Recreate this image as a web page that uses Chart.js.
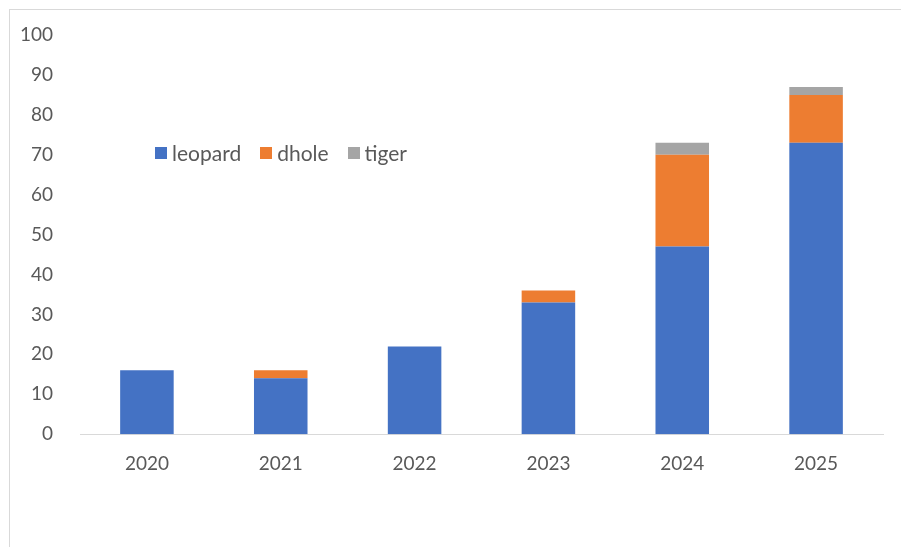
<!DOCTYPE html>
<html>
<head>
<meta charset="utf-8">
<script src="https://cdn.jsdelivr.net/npm/chart.js@4"></script>
<style>
  html, body { margin: 0; padding: 0; background: #fff; }
  #wrap { position: relative; width: 901px; height: 547px; overflow: hidden; }
  #frame { position: absolute; left: 9px; top: 9px; width: 910px; height: 560px; border: 1px solid #d9d9d9; box-sizing: border-box; }
  #chart { position: absolute; left: 0; top: 0; }
  #legend { position: absolute; left: 155px; top: 140px; display: flex; font-family: Lato, sans-serif; font-size: 21px; color: #595959; }
  #legend .item { display: flex; align-items: center; margin-right: 19px; }
  #legend .box { width: 12px; height: 12px; margin-right: 5px; }
</style>
</head>
<body>
<div id="wrap">
  <div id="frame"></div>
  <canvas id="chart" width="901" height="547"></canvas>
  <div id="legend"></div>
</div>
<script>
// chart data
const years = ['2020', '2021', '2022', '2023', '2024', '2025'];
const leopard = [16, 14, 22, 33, 47, 73];
const dhole = [0, 2, 0, 3, 23, 12];
const tiger = [0, 0, 0, 0, 3, 2];
const yTicks = [0, 10, 20, 30, 40, 50, 60, 70, 80, 90, 100];

const seriesColors = { leopard: '#4472c4', dhole: '#ed7d31', tiger: '#a5a5a5' };
const textColor = '#595959';
const fontFamily = 'Lato, sans-serif';

const datasets = [
    { label: 'leopard', data: leopard, backgroundColor: seriesColors.leopard },
    { label: 'dhole', data: dhole, backgroundColor: seriesColors.dhole },
    { label: 'tiger', data: tiger, backgroundColor: seriesColors.tiger }
].map(ds => Object.assign(ds, { barPercentage: 0.4, categoryPercentage: 1.0, borderWidth: 0 }));

const chart = new Chart(document.getElementById('chart'), {
    type: 'bar',
    data: { labels: years, datasets: datasets },
    options: {
        responsive: false,
        animation: false,
        layout: { padding: { top: 35, right: 18, bottom: 62, left: 0 } },
        plugins: {
            legend: { display: false },
            tooltip: { enabled: false }
        },
        scales: {
            x: {
                stacked: true,
                grid: { display: false },
                border: { display: true, color: '#d9d9d9', width: 1 },
                ticks: { color: textColor, font: { family: fontFamily, size: 19 }, padding: 10 }
            },
            y: {
                stacked: true,
                min: 0,
                max: 100,
                afterBuildTicks: axis => { axis.ticks = yTicks.map(v => ({ value: v })); },
                afterFit: axis => { axis.width = 80; },
                grid: { display: false },
                border: { display: false },
                ticks: { color: textColor, font: { family: fontFamily, size: 19 }, padding: 19 }
            }
        }
    }
});

// HTML legend built from the datasets
const legendEl = document.getElementById('legend');
chart.data.datasets.forEach(ds => {
    const item = document.createElement('div');
    item.className = 'item';
    const box = document.createElement('span');
    box.className = 'box';
    box.style.background = ds.backgroundColor;
    const label = document.createElement('span');
    label.textContent = ds.label;
    item.appendChild(box);
    item.appendChild(label);
    legendEl.appendChild(item);
});
</script>
</body>
</html>
